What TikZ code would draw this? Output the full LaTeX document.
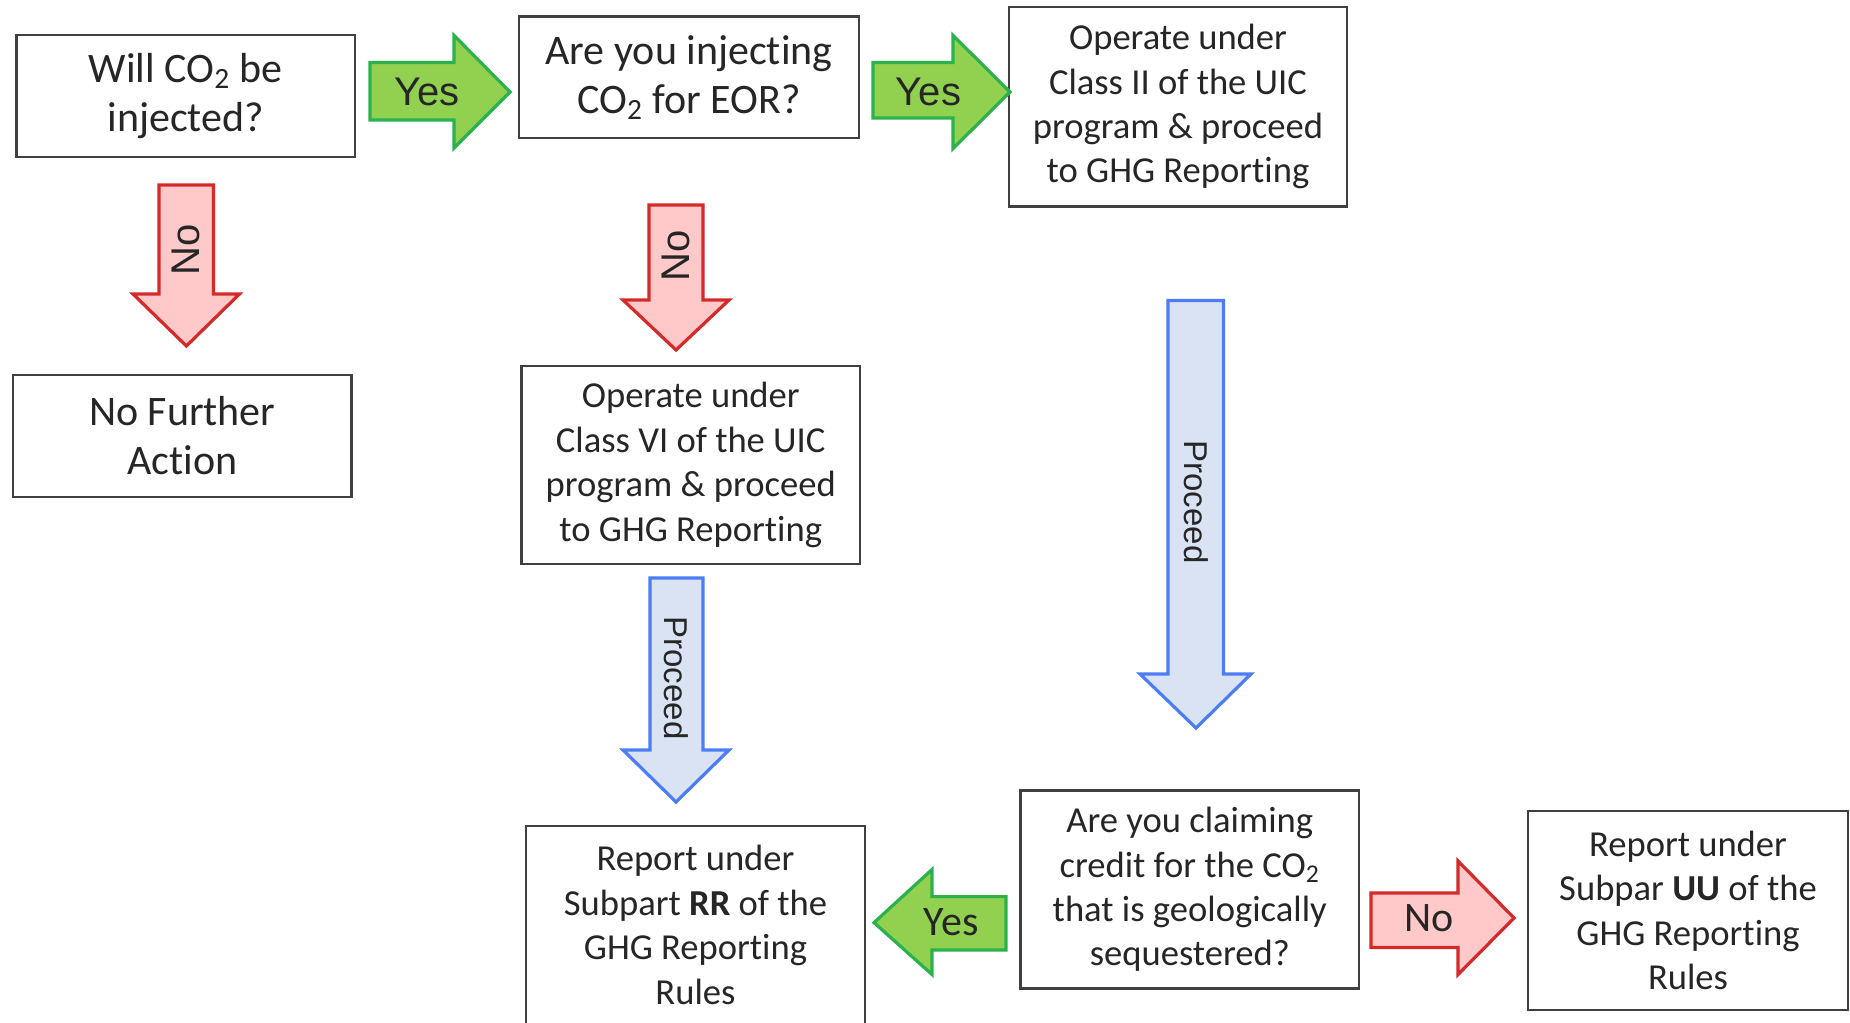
\documentclass[tikz,border=0pt]{standalone}
\usepackage{fontspec}
\setmainfont{Carlito}[Ligatures=NoCommon]
\newfontfamily\arialf{Liberation Sans}
\definecolor{boxgray}{HTML}{404040}
\definecolor{gfill}{HTML}{92D050}
\definecolor{gline}{HTML}{2BB24C}
\definecolor{rfill}{HTML}{FFC9C9}
\definecolor{rline}{HTML}{D42A2A}
\definecolor{bfill}{HTML}{DAE3F3}
\definecolor{bline}{HTML}{4C7DF5}
\begin{document}
\begin{tikzpicture}[x=0.5pt,y=-0.5pt,
  box/.style={draw=boxgray, line width=1.2pt, fill=white, align=center, inner sep=0pt, text=black!85},
  bigtxt/.style={font=\fontsize{21}{24.5}\selectfont},
  smtxt/.style={font=\fontsize{18.3}{22.2}\selectfont},
  greenarr/.style={fill=gfill, draw=gline, line width=1.6pt, line join=miter},
  redarr/.style={fill=rfill, draw=rline, line width=1.6pt, line join=miter},
  bluearr/.style={fill=bfill, draw=bline, line width=1.6pt, line join=miter},
  lbl/.style={font=\arialf\fontsize{20}{22}\selectfont, inner sep=0pt, text=black!85},
  plbl/.style={font=\arialf\fontsize{16.5}{18}\selectfont, inner sep=0pt, text=black!85},
  clbl/.style={font=\fontsize{21}{25}\selectfont, inner sep=0pt, text=black!85},
]
\clip (0,0) rectangle (1850,1022);
\fill[white] (0,0) rectangle (1850,1022);

% boxes
\node[box, bigtxt, minimum width=169.25pt, minimum height=61pt] (b1) at (185.75,96)
  {Will CO\textsubscript{2} be\\injected?};
\node[box, bigtxt, minimum width=170pt, minimum height=60.75pt] (b2) at (689,77.25)
  {Are you injecting\\CO\textsubscript{2} for EOR?};
\node[box, smtxt, minimum width=169pt, minimum height=99.75pt] (b3) at (1178,106.75)
  {Operate under\\Class II of the UIC\\program \& proceed\\to GHG Reporting};
\node[box, bigtxt, minimum width=169.3pt, minimum height=61pt] (nfa) at (182.3,436)
  {No Further\\Action};
\node[box, smtxt, minimum width=169.25pt, minimum height=99pt] (c6) at (690.75,465)
  {Operate under\\Class VI of the UIC\\program \& proceed\\to GHG Reporting};
\node[box, smtxt, minimum width=169.5pt, minimum height=99pt] (rr) at (695.5,925)
  {Report under\\Subpart \textbf{RR} of the\\GHG Reporting\\Rules};
\node[box, smtxt, minimum width=169.25pt, minimum height=99pt] (cl) at (1189.75,889.5)
  {Are you claiming\\credit for the CO\textsubscript{2}\\that is geologically\\sequestered?};
\node[box, smtxt, minimum width=160pt, minimum height=99.5pt] (uu) at (1688,910.5)
  {Report under\\Subpar \textbf{UU} of the\\GHG Reporting\\Rules};

% Yes arrow 1 (b1 -> b2)
\draw[greenarr] (370,62.5) -- (454,62.5) -- (454,35.4) -- (510,92) -- (454,148) -- (454,120) -- (370,120) -- cycle;
\node[lbl] (y1) at (427,92) {Yes};
% Yes arrow 2 (b2 -> b3)
\draw[greenarr] (873,62.5) -- (953,62.5) -- (953,35.4) -- (1010,92) -- (953,148.6) -- (953,118) -- (873,118) -- cycle;
\node[lbl] (y2) at (928.5,92) {Yes};

% No arrow 1 (b1 -> nfa)
\draw[redarr] (159,185) -- (213.5,185) -- (213.5,294) -- (239.5,294) -- (186.4,346) -- (133,294) -- (159,294) -- cycle;
\node[lbl, rotate=90] (n1) at (186.4,250) {No};
% No arrow 2 (b2 -> c6)
\draw[redarr] (649,205) -- (703,205) -- (703,300) -- (729,300) -- (676,350) -- (623,300) -- (649,300) -- cycle;
\node[lbl, rotate=90] (n2) at (676,256) {No};

% Proceed arrow 1 (c6 -> rr)
\draw[bluearr] (650,578) -- (703,578) -- (703,750) -- (729,750) -- (676,802) -- (623,750) -- (650,750) -- cycle;
\node[plbl, rotate=-90] (p1) at (676,678) {Proceed};
% Proceed arrow 2 (b3 -> cl)
\draw[bluearr] (1168,300.5) -- (1223.5,300.5) -- (1223.5,674) -- (1251,674) -- (1196,728) -- (1140,674) -- (1168,674) -- cycle;
\node[plbl, rotate=-90] (p2) at (1196,502) {Proceed};

% Yes arrow 3 (cl -> rr)
\draw[greenarr] (1006,896.6) -- (932,896.6) -- (932,869.5) -- (874,922.6) -- (932,974.5) -- (932,950) -- (1006,950) -- cycle;
\node[clbl] (y3) at (951,922.6) {Yes};
% No arrow 3 (cl -> uu)
\draw[redarr] (1371,893) -- (1458,893) -- (1458,861) -- (1514,918) -- (1458,974.5) -- (1458,947.4) -- (1371,947.4) -- cycle;
\node[clbl] (n3) at (1429,918) {No};
\end{tikzpicture}
\end{document}
